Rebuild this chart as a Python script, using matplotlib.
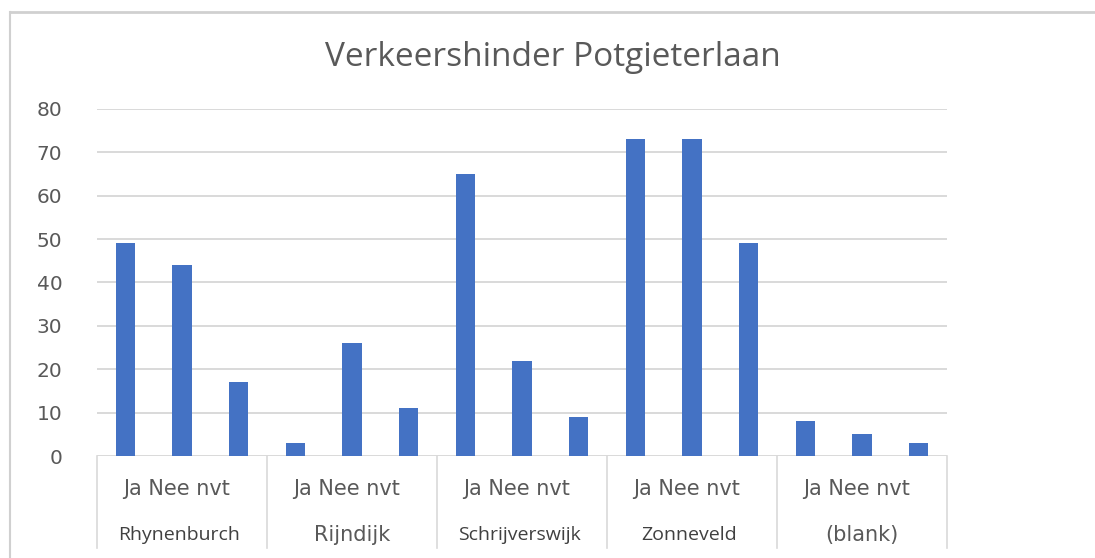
import matplotlib
matplotlib.use("Agg")
import matplotlib.pyplot as plt
import numpy as np

# data
wijken = ["Rhynenburch", "Rijndijk", "Schrijverswijk", "Zonneveld", "(blank)"]
antwoorden = ["Ja", "Nee", "nvt"]
rhynenburch = [49, 44, 17]
rijndijk = [3, 26, 11]
schrijverswijk = [65, 22, 9]
zonneveld = [73, 73, 49]
blank = [8, 5, 3]
y_ticks = [0, 10, 20, 30, 40, 50, 60, 70, 80]

values = rhynenburch + rijndijk + schrijverswijk + zonneveld + blank
x = np.arange(len(values))

grey = "#595959"
plt.rcParams['font.family'] = ['DejaVu Sans']

fig = plt.figure(figsize=(10.95, 5.58), dpi=100)
W, H = 1095, 558
ax = fig.add_axes([97 / W, (H - 456) / H, 850 / W, 347 / H])

ax.bar(x, values, width=0.34, color="#4472C4", zorder=3)

ax.set_xlim(-0.5, len(values) - 0.5)
ax.set_ylim(0, 80)
ax.set_yticks(y_ticks)
ax.yaxis.grid(True, color="#d9d9d9", linewidth=1.4, zorder=0)
ax.tick_params(axis="y", length=0, pad=25, labelsize=14.5, labelcolor=grey)
ax.set_xticks([])
for s in ax.spines.values():
    s.set_visible(False)

# category box under the axis: two rows of labels
n = len(antwoorden)
smal = {"Rhynenburch", "Schrijverswijk", "Zonneveld"}
for i, wijk in enumerate(wijken):
    left = i * n - 0.5
    mid = left + n / 2
    ax.plot([left, left], [0, -21.2], color="#d9d9d9", lw=1.2, clip_on=False)
    ax.text(mid - 0.1, -7.6, " ".join(antwoorden), ha="center", va="center",
            fontsize=15, color=grey, clip_on=False)
    if wijk in smal:
        ax.text(mid - 0.05, -18.2, wijk, ha="center", va="center", family=['Open Sans'],
                fontsize=14, color="#404040", clip_on=False)
    else:
        ax.text(mid, -18.2, wijk, ha="center", va="center",
                fontsize=15, color=grey, clip_on=False)
ax.plot([len(values) - 0.5] * 2, [0, -21.2], color="#d9d9d9", lw=1.2, clip_on=False)

fig.text(553 / W, 1 - 57 / H, "Verkeershinder Potgieterlaan", ha="center", va="center",
         fontsize=24, color=grey, family=['Open Sans'])

# outer chart border (top and left only, image is cropped)
fig.add_artist(plt.Line2D([10 / W, 10 / W], [0, 1 - 12 / H], color="#d0d0d0", lw=1.5))
fig.add_artist(plt.Line2D([10 / W, 1], [1 - 12 / H, 1 - 12 / H], color="#d0d0d0", lw=2))

fig.savefig("out.png", dpi=100)
